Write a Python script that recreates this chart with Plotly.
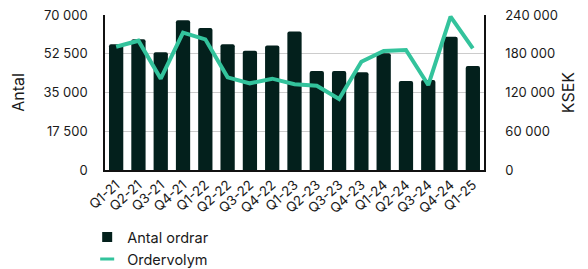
import plotly.graph_objects as go

quarters = ["Q1-21","Q2-21","Q3-21","Q4-21","Q1-22","Q2-22","Q3-22","Q4-22",
            "Q1-23","Q2-23","Q3-23","Q4-23","Q1-24","Q2-24","Q3-24","Q4-24","Q1-25"]
antal_ordrar = [56800, 59000, 53200, 67600, 64100, 56800, 53900, 56200,
                62500, 44700, 44700, 44100, 52700, 40200, 40700, 60200, 47000]
ordervolym = [190900, 200200, 141400, 212600, 202300, 143500, 134200, 141400,
              132700, 130500, 110000, 167700, 184300, 185800, 131600, 237400, 188400]

left_ticks = [0, 17500, 35000, 52500, 70000]
left_labels = ["0", "17 500", "35 000", "52 500", "70 000"]
right_ticks = [0, 60000, 120000, 180000, 240000]
right_labels = ["0", "60 000", "120 000", "180 000", "240 000"]

BAR = "#03201C"
LINE = "#33C39C"
FONT = "Inter, Roboto, sans-serif"

fig = go.Figure()
fig.add_trace(go.Bar(x=quarters, y=antal_ordrar, name="Antal ordrar", showlegend=False,
                     marker=dict(color=BAR, line=dict(width=0)), yaxis="y"))
fig.add_trace(go.Scatter(x=quarters, y=ordervolym, name="Ordervolym", mode="lines",
                         showlegend=False, line=dict(color=LINE, width=4), yaxis="y2",
                         cliponaxis=False))
# legend entries
fig.add_trace(go.Scatter(x=[None], y=[None], mode="markers", name="Antal ordrar",
                         marker=dict(symbol="square", size=10, color=BAR), yaxis="y"))
fig.add_trace(go.Scatter(x=[None], y=[None], mode="markers", name="Ordervolym",
                         marker=dict(symbol="line-ew", size=10, color=LINE,
                                     line=dict(width=3, color=LINE)), yaxis="y"))

fig.update_layout(
    width=580, height=261,
    margin=dict(l=97, r=104, t=7, b=99, autoexpand=False),
    plot_bgcolor="white", paper_bgcolor="white",
    font=dict(family=FONT, size=13, color="#1a1a1a"),
    bargap=0.36, barcornerradius=2,
    showlegend=True,
    legend=dict(x=-0.047, y=-0.33, xanchor="left", yanchor="top",
                orientation="v", font=dict(size=14.5, color="#1a1a1a"),
                tracegroupgap=0, bgcolor="rgba(0,0,0,0)"),
    xaxis=dict(type="category", tickangle=-42, showgrid=False, automargin=False,
               showline=True, linecolor="#111", linewidth=1.5,
               ticks="", tickfont=dict(size=13.5)),
    yaxis=dict(range=[0, 70000], tickvals=left_ticks, ticktext=left_labels,
               showgrid=True, gridcolor="#cccccc", gridwidth=1, automargin=False,
               showline=True, linecolor="#111", linewidth=1.5,
               zeroline=False, ticks="", ticklabelstandoff=13,
               ticklabeloverflow="allow",
               title=dict(text="Antal", standoff=26), tickfont=dict(size=13)),
    yaxis2=dict(range=[0, 240000], tickvals=right_ticks, ticktext=right_labels,
                overlaying="y", side="right", showgrid=False, automargin=False,
                showline=True, linecolor="#111", linewidth=1.5,
                zeroline=False, ticks="", ticklabelstandoff=17,
                ticklabeloverflow="allow",
                title=dict(text="KSEK", standoff=6), tickfont=dict(size=13)),
)

fig.write_html("out.html")
